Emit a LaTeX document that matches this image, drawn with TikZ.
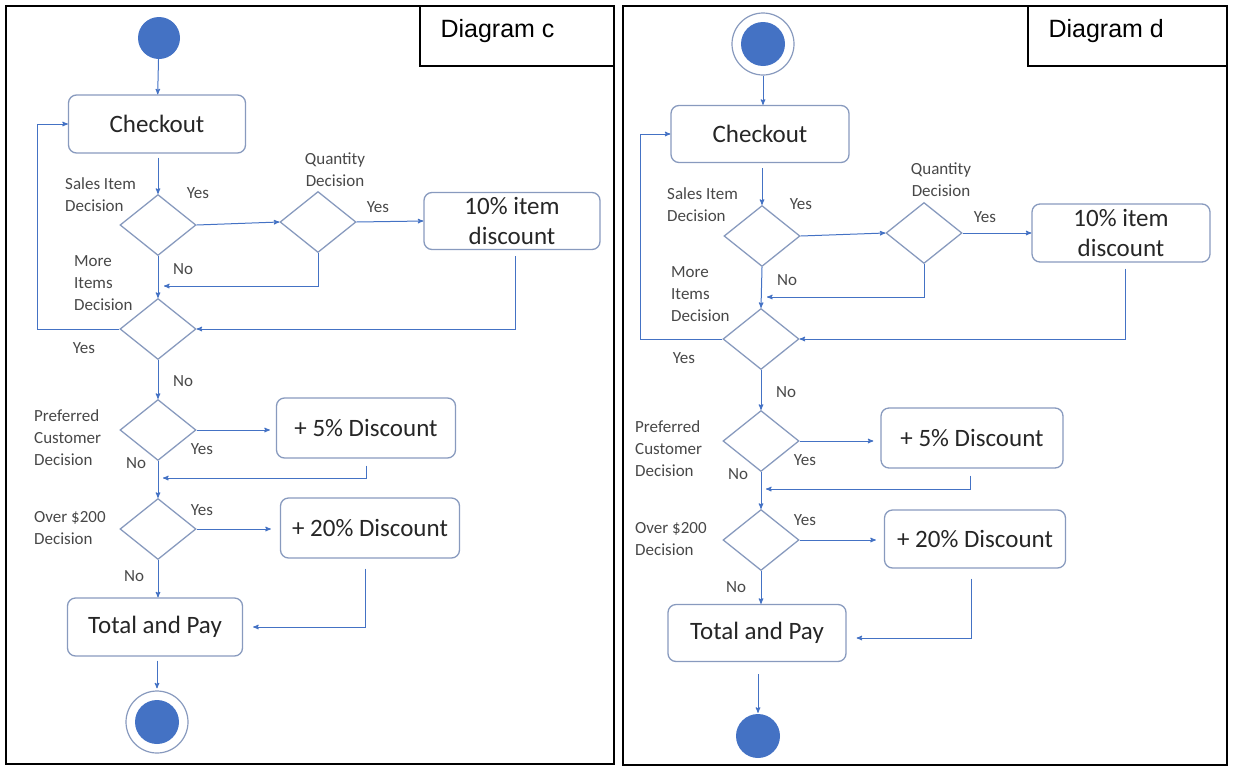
\documentclass[tikz,border=0pt]{standalone}
\usepackage{fontspec}
\setmainfont{Carlito}
\newfontfamily\headfont{Liberation Sans}
\usetikzlibrary{positioning}
\usetikzlibrary{arrows}
\usetikzlibrary{shapes.geometric}
\definecolor{flowblue}{RGB}{68,114,196}
\definecolor{boxgray}{RGB}{136,154,190}
\definecolor{txtgray}{RGB}{72,72,72}
\tikzset{act/.style={draw=boxgray, line width=1.3pt, rounded corners=8pt, inner sep=2pt, align=center, font=\fontsize{25}{30}\selectfont, text=black!85}}
\tikzset{dec/.style={draw=boxgray, line width=1.3pt, diamond, minimum width=76pt, minimum height=61pt, inner sep=0pt}}
\tikzset{ed/.style={inner sep=0pt, align=left, font=\fontsize{17}{22}\selectfont, text=txtgray}}
\tikzset{fl/.style={draw=flowblue, line width=1pt, ->}}
\tikzset{frame/.style={draw=black, line width=2.5pt}}
\tikzset{dot/.style={circle, fill=flowblue, inner sep=0pt, minimum size=42pt}}
\tikzset{ring/.style={circle, draw=boxgray, line width=1.2pt, inner sep=0pt, minimum size=62pt, path picture={\fill[flowblue] (path picture bounding box.center) circle (22pt);}}}
\tikzset{>=stealth'}

\begin{document}
\begin{tikzpicture}[x=1pt, y=-1pt]
    \useasboundingbox (0,0) rectangle (1239,774);

    % diagram c
    \draw[frame] (6,6) rectangle (614,764);
    \draw[frame] (420,6) rectangle (614,66);
    \node[anchor=west, font=\headfont\fontsize{25}{30}\selectfont] (ctitle) at (437,31) {Diagram c};

    \node[dot] (cstart) at (159,38) {};
    \node[act, minimum width=177pt, minimum height=58pt] (ccheck) at (157,124) {Checkout};
    \node[dec] (csales) at (158,225) {};
    \node[dec] (cqty) at (318,222) {};
    \node[act, minimum width=176pt, minimum height=57pt] (cten) at (512,221) {10\% item\\discount};
    \node[dec] (cmore) at (158,329) {};
    \node[dec] (cpref) at (158,430) {};
    \node[act, minimum width=179pt, minimum height=60pt] (cfive) at (366,428) {+ 5\% Discount};
    \node[dec] (cover) at (158,529) {};
    \node[act, minimum width=179pt, minimum height=60pt] (ctwenty) at (370,528) {+ 20\% Discount};
    \node[act, minimum width=175pt, minimum height=58pt] (ctotal) at (155,627) {Total and Pay};
    \node[ring] (cend) at (157,722) {};
    \coordinate (cj1) at (164,286);
    \coordinate (cj2) at (163,478);

    \draw[fl] (cstart) -- (ccheck);
    \draw[fl, shorten <=4pt] (ccheck.south -| csales.north) -- (csales.north);
    \draw[fl] (csales.east) -- (cqty.west);
    \draw[fl] (cqty.east) -- (cten.west);
    \draw[fl] (csales.south) -- (cmore.north);
    \draw[fl] (cqty.south) |- (cj1);
    \draw[fl, shorten <=6pt] ([xshift=3pt]cten.south) |- (cmore.east);
    \draw[fl] (cmore.west) -- ++(-82,0) |- (ccheck.west);
    \draw[fl] (cmore.south) -- (cpref.north);
    \draw[fl, shorten >=6pt] (cpref.east) -- (cpref.east -| cfive.west);
    \draw[fl, shorten <=7pt] (cfive.south) |- (cj2);
    \draw[fl] (cpref.south) -- (cover.north);
    \draw[fl, shorten >=9pt] (cover.east) -- (cover.east -| ctwenty.west);
    \draw[fl] (cover.south) -- (cover.south |- ctotal.north);
    \draw[fl, shorten <=10pt, shorten >=10pt] ([xshift=-5pt]ctwenty.south) |- (ctotal.east);
    \draw[fl, shorten <=4pt, shorten >=2pt] (ctotal.south -| cend.north) -- (cend.north);

    \node[ed, anchor=west] (clsales) at (65,195) {Sales Item\\Decision};
    \node[ed] (clyes1) at (198,193) {Yes};
    \node[ed, align=center] (clqty) at (335,170) {Quantity\\Decision};
    \node[ed] (clyes2) at (378,207) {Yes};
    \node[ed, anchor=west] (clmore) at (74,283) {More\\Items\\Decision};
    \node[ed] (clno1) at (183,269) {No};
    \node[ed] (clyes3) at (84,348) {Yes};
    \node[ed] (clno2) at (183,381) {No};
    \node[ed, anchor=west] (clpref) at (34,438) {Preferred\\Customer\\Decision};
    \node[ed] (clyes4) at (202,449) {Yes};
    \node[ed] (clno3) at (136,463) {No};
    \node[ed, anchor=west] (clover) at (34,528) {Over \$200\\Decision};
    \node[ed] (clyes5) at (202,510) {Yes};
    \node[ed] (clno4) at (134,576) {No};

    % diagram d
    \draw[frame] (623,6) rectangle (1227,765);
    \draw[frame] (1028,6) rectangle (1227,66);
    \node[anchor=west, font=\headfont\fontsize{25}{30}\selectfont] (dtitle) at (1045,31) {Diagram d};

    \node[ring] (dstart) at (763,44) {};
    \node[act, minimum width=178pt, minimum height=57pt] (dcheck) at (760,134) {Checkout};
    \node[dec] (dsales) at (762,236) {};
    \node[dec] (dqty) at (924,233) {};
    \node[act, minimum width=178pt, minimum height=58pt] (dten) at (1121,233) {10\% item\\discount};
    \node[dec] (dmore) at (761,339) {};
    \node[dec] (dpref) at (761,441) {};
    \node[act, minimum width=182pt, minimum height=60pt] (dfive) at (972,438) {+ 5\% Discount};
    \node[dec] (dover) at (761,540) {};
    \node[act, minimum width=181pt, minimum height=58pt] (dtwenty) at (975,539) {+ 20\% Discount};
    \node[act, minimum width=178pt, minimum height=57pt] (dtotal) at (757,633) {Total and Pay};
    \node[dot, minimum size=44pt] (dend) at (758,736) {};
    \coordinate (dj1) at (767,297);
    \coordinate (dj2) at (766,489);

    \draw[fl] (dstart) -- (dcheck.north -| dstart);
    \draw[fl, shorten <=5pt] (dcheck.south -| dsales.north) -- (dsales.north);
    \draw[fl] (dsales.east) -- (dqty.west);
    \draw[fl] (dqty.east) -- (dten.west);
    \draw[fl] (dsales.south) -- (dmore.north);
    \draw[fl] (dqty.south) |- (dj1);
    \draw[fl, shorten <=6pt] ([xshift=4pt]dten.south) |- (dmore.east);
    \draw[fl] (dmore.west) -- ++(-82,0) |- (dcheck.west);
    \draw[fl] (dmore.south) -- (dpref.north);
    \draw[fl, shorten >=7pt] (dpref.east) -- (dpref.east -| dfive.west);
    \draw[fl, shorten <=7pt] ([xshift=-2pt]dfive.south) |- (dj2);
    \draw[fl] (dpref.south) -- (dover.north);
    \draw[fl, shorten >=8pt] (dover.east) -- (dover.east -| dtwenty.west);
    \draw[fl] (dover.south) -- (dover.south |- dtotal.north);
    \draw[fl, shorten <=10pt, shorten >=10pt] ([xshift=-4pt]dtwenty.south) |- ([yshift=-5pt]dtotal.east);
    \draw[fl, shorten <=12pt, shorten >=1pt] (dtotal.south -| dend.north) -- (dend.north);

    \node[ed, anchor=west] (dlsales) at (667,205) {Sales Item\\Decision};
    \node[ed] (dlyes1) at (801,204) {Yes};
    \node[ed, align=center] (dlqty) at (941,180) {Quantity\\Decision};
    \node[ed] (dlyes2) at (985,217) {Yes};
    \node[ed, anchor=west] (dlmore) at (671,294) {More\\Items\\Decision};
    \node[ed] (dlno1) at (787,280) {No};
    \node[ed] (dlyes3) at (684,358) {Yes};
    \node[ed] (dlno2) at (786,392) {No};
    \node[ed, anchor=west] (dlpref) at (635,449) {Preferred\\Customer\\Decision};
    \node[ed] (dlyes4) at (805,460) {Yes};
    \node[ed] (dlno3) at (738,474) {No};
    \node[ed, anchor=west] (dlover) at (635,539) {Over \$200\\Decision};
    \node[ed] (dlyes5) at (805,520) {Yes};
    \node[ed] (dlno4) at (736,587) {No};
\end{tikzpicture}
\end{document}
